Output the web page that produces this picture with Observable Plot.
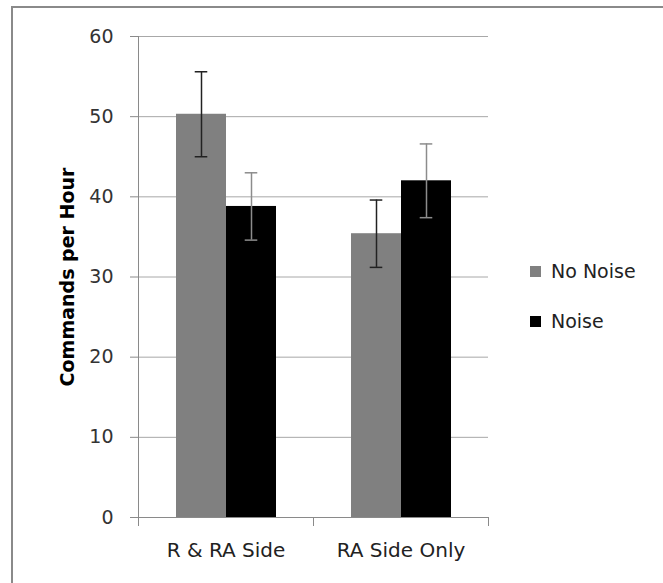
<!DOCTYPE html>
<html><head><meta charset="utf-8">
<script src="https://cdn.jsdelivr.net/npm/d3@7"></script>
<script src="https://cdn.jsdelivr.net/npm/@observablehq/plot@0.6"></script>
<style>
body{margin:0;background:#fff;}
#wrap{position:relative;width:663px;height:583px;overflow:hidden;font-family:"DejaVu Sans",sans-serif;background:#fff;}
#border{position:absolute;left:11px;top:6px;right:-10px;bottom:-10px;border-left:2px solid #8a8a8a;border-top:2px solid #8a8a8a;}
#chart{position:absolute;left:0;top:0;}
#legend{position:absolute;left:530px;top:246px;}
.item{display:flex;align-items:center;height:50px;font-size:19px;color:#222;}
.sw{width:11px;height:11px;margin-right:10px;}
</style></head>
<body><div id="wrap"><div id="border"></div><div id="chart"></div><div id="legend"></div></div>
<script>
const categories = ["R & RA Side", "RA Side Only"];
const series = ["No Noise", "Noise"];
const noNoise = [50.3, 35.4];
const noNoiseErr = [5.3, 4.2];
const noise = [38.8, 42.0];
const noiseErr = [4.2, 4.6];
const yTicks = [0, 10, 20, 30, 40, 50, 60];
const yLabel = "Commands per Hour";
const seriesColors = ["#808080", "#000000"];
const errColors = ["#222222", "#8c8c8c"];

const W = 663, H = 583, ML = 138, MR = 175, MT = 36, MB = 66;
const plotH = H - MT - MB;
const padOuter = 0.735;
const capWidth = 13;
const facetW = (W - ML - MR) / categories.length;
const bandW = facetW / (series.length + 2 * padOuter);
const capInset = (bandW - capWidth) / 2;

const rows = [];
categories.forEach((c, i) => {
  rows.push({cat: c, series: series[0], value: noNoise[i], err: noNoiseErr[i]});
  rows.push({cat: c, series: series[1], value: noise[i], err: noiseErr[i]});
});

const axisGray = "#8a8a8a";
const errMarks = series.flatMap((s, k) => {
  const data = rows.filter(d => d.series === s);
  return [
    Plot.ruleX(data, {fx: "cat", x: "series", y1: d => d.value - d.err, y2: d => d.value + d.err, stroke: errColors[k], strokeWidth: 1.5}),
    Plot.tickY(data, {fx: "cat", x: "series", y: d => d.value - d.err, stroke: errColors[k], strokeWidth: 1.5, insetLeft: capInset, insetRight: capInset}),
    Plot.tickY(data, {fx: "cat", x: "series", y: d => d.value + d.err, stroke: errColors[k], strokeWidth: 1.5, insetLeft: capInset, insetRight: capInset})
  ];
});

const chart = Plot.plot({
  width: W, height: H,
  marginLeft: ML, marginRight: MR, marginTop: MT, marginBottom: MB,
  style: {background: "transparent", fontFamily: "DejaVu Sans, sans-serif"},
  fx: {domain: categories, padding: 0, label: null},
  x: {domain: series, paddingInner: 0, paddingOuter: padOuter, axis: null},
  y: {domain: [0, 60], label: null},
  color: {domain: series, range: seriesColors},
  marks: [
    Plot.gridY(yTicks.filter(d => d > 0), {stroke: "#a8a8a8", strokeOpacity: 1}),
    Plot.barY(rows, {fx: "cat", x: "series", y: "value", fill: "series"}),
    ...errMarks,
    Plot.ruleY([0], {stroke: axisGray}),
    Plot.frame({anchor: "left", facetAnchor: "left", stroke: axisGray, insetBottom: -8}),
    Plot.frame({anchor: "left", stroke: axisGray, insetTop: plotH, insetBottom: -8}),
    Plot.frame({anchor: "right", facetAnchor: "right", stroke: axisGray, insetTop: plotH, insetBottom: -8}),
    Plot.axisY({ticks: yTicks, tickSize: 8, tickPadding: 17, fontSize: 19, stroke: axisGray, fill: "#333",
      label: yLabel, labelArrow: "none", labelAnchor: "center", labelOffset: 78}),
    Plot.axisFx({anchor: "bottom", tickSize: 0, tickPadding: 25, fontSize: 20, fill: "#222", label: null})
  ]
});
document.getElementById("chart").append(chart);
d3.select(chart).selectAll("[aria-label='y-axis label'] text")
  .text(yLabel)
  .style("font-weight", "bold").style("fill", "#000").style("font-size", "19px");

const legend = d3.select("#legend");
series.forEach((s, k) => {
  const it = legend.append("div").attr("class", "item");
  it.append("div").attr("class", "sw").style("background", seriesColors[k]);
  it.append("span").text(s);
});
</script>
</body></html>
